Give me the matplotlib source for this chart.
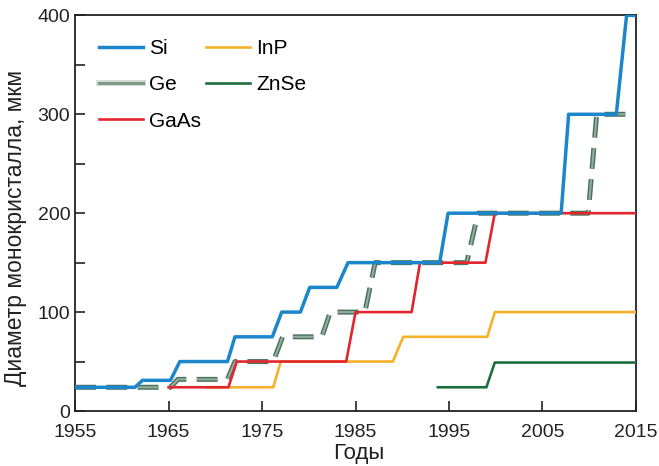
import numpy as np
import matplotlib.pyplot as plt
import matplotlib.patheffects as pe
from matplotlib.lines import Line2D
from matplotlib.ticker import MultipleLocator

plt.rcParams['font.family'] = ['Liberation Sans', 'DejaVu Sans']

# вершины ступенчатых кривых: годы и диаметры (мкм)
si_years = [1955, 1961.4, 1962.2, 1965.2, 1966.2, 1971.3, 1972.1, 1976.1, 1977.1,
            1979.1, 1980.1, 1983.0, 1984.2, 1994.0, 1994.9, 2007.0, 2007.8,
            2012.9, 2014.0, 2015]
si_diam = [24, 24, 31, 31, 50, 50, 75, 75, 100, 100, 125, 125, 150, 150, 200,
           200, 300, 300, 400, 400]

ge_years = [1955, 1965.2, 1966.0, 1971.3, 1972.1, 1976.2, 1977.2, 1981.4, 1982.3,
            1986.0, 1987.1, 1996.9, 1998.1, 2009.9, 2010.8, 2015]
ge_diam = [24, 24, 32, 32, 50, 50, 75, 75, 100, 100, 150, 150, 200, 200, 300, 300]

gaas_years = [1965.0, 1971.4, 1972.3, 1984.0, 1985.0, 1991.0, 1991.9, 1998.9,
              1999.9, 2015]
gaas_diam = [24, 24, 50, 50, 100, 100, 150, 150, 200, 200]

inp_years = [1969.1, 1976.2, 1977.0, 1989.0, 1990.1, 1999.1, 1999.9, 2015]
inp_diam = [24, 24, 50, 50, 75, 75, 100, 100]

znse_years = [1993.8, 1999.0, 1999.9, 2015]
znse_diam = [24, 24, 49, 49]

fig = plt.figure(figsize=(6.59, 4.66), dpi=100)
ax = fig.add_axes([0.114, 0.118, 0.851, 0.849])

ge_fx = [pe.Stroke(linewidth=3.6, foreground='#4a725c'), pe.Normal()]
l_ge, = ax.plot(ge_years, ge_diam, color='#94ad9c', lw=1.5,
                linestyle=(0, (10, 5)), solid_capstyle='butt',
                path_effects=ge_fx, zorder=4, label='Ge')
l_inp, = ax.plot(inp_years, inp_diam, color='#f6b02a', lw=1.9, zorder=3, label='InP')
l_gaas, = ax.plot(gaas_years, gaas_diam, color='#e2262d', lw=1.9, zorder=5, label='GaAs')
l_znse, = ax.plot(znse_years, znse_diam, color='#1e6e40', lw=1.9, zorder=3, label='ZnSe')
l_si, = ax.plot(si_years, si_diam, color='#1b86c9', lw=2.5, zorder=6, label='Si')

# в легенде Ge показан сплошной линией
ge_leg = Line2D([], [], color='#7f9a88', lw=2.2,
                path_effects=[pe.Stroke(linewidth=4.2, foreground='#d2ddd5'),
                              pe.Normal()])

leg = ax.legend([l_si, ge_leg, l_gaas, l_inp, l_znse],
                ['Si', 'Ge', 'GaAs', 'InP', 'ZnSe'],
                ncol=2, frameon=False, loc='upper left', fontsize=15,
                handlelength=2.1, labelspacing=0.82, columnspacing=0.25,
                handletextpad=0.3, borderaxespad=0.75, bbox_to_anchor=(0.0, 1.0))

ax.set_xlim(1955, 2015)
ax.set_ylim(0, 400)
ax.set_xticks(np.arange(1955, 2016, 10))
ax.set_yticks(np.arange(0, 401, 100))
ax.yaxis.set_minor_locator(MultipleLocator(50))
ax.tick_params(axis='both', which='both', direction='in', length=7, width=1.2,
               labelsize=14, colors='#222222', top=False, right=False)
ax.tick_params(axis='x', pad=9)
for s in ax.spines.values():
    s.set_linewidth(1.3)
    s.set_color('#222222')

ax.set_xlabel('Годы', fontsize=16, color='#222222')
ax.set_ylabel('Диаметр монокристалла, мкм', fontsize=16.5, color='#222222')
ax.xaxis.set_label_coords(0.506, -0.108, transform=ax.transAxes)
ax.yaxis.set_label_coords(-0.107, 0.463, transform=ax.transAxes)
ax.xaxis.label.set_va('center')
ax.yaxis.label.set_va('center')

fig.savefig('out.png', dpi=100)
